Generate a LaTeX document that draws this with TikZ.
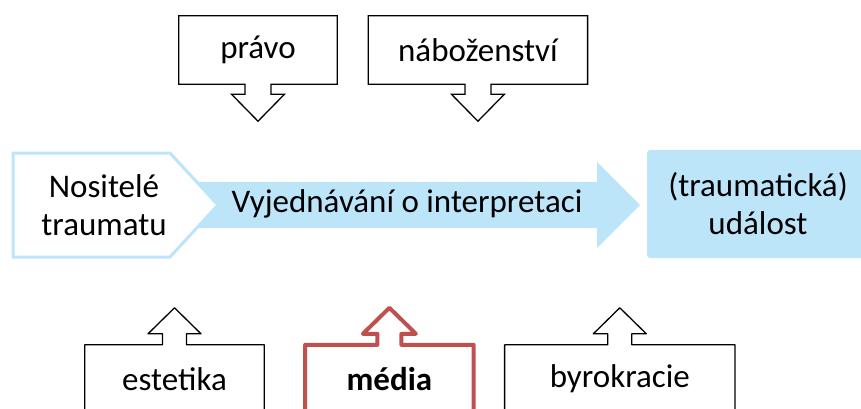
\documentclass[tikz,border=0pt]{standalone}
\usepackage{fontspec}
\setmainfont{Carlito}
\usetikzlibrary{positioning,calc}
\definecolor{paleblue}{RGB}{189,229,250}
\definecolor{mediared}{RGB}{192,80,77}

\begin{document}
\begin{tikzpicture}[x=1pt,y=-1pt,
    every node/.style={font=\fontsize{33}{38}\selectfont},
    box/.style={minimum height=68pt,inner sep=0pt},
    callout/.style={draw=black,line width=1.3pt}]
  \useasboundingbox (0,0) rectangle (861,408);
  \clip (0,0) rectangle (861,408);

  % negotiation arrow
  \fill[paleblue] (190,182) -- (597,182) -- (597,162) -- (640,205)
    -- (597,248) -- (597,228) -- (190,228) -- cycle;
  \draw[paleblue,line width=3pt,fill=white] (13,153) -- (170,153)
    -- (218,205) -- (170,257) -- (13,257) -- cycle;
  \node[align=center] (carriers) at (104,205) {Nositelé\\traumatu};
  \node (talk) at (407,204) {Vyjednávání o interpretaci};
  \node[fill=paleblue,rounded corners=3pt,minimum width=222pt,
    minimum height=108pt,align=center] (event) at (758,204)
    {(traumatická)\\událost};

  % upper influences
  \node[box,minimum width=158pt] (pravo) at (258,50) {právo};
  \node[box,minimum width=219pt,right=31pt of pravo] (nabozenstvi) {náboženství};
  \foreach \n in {pravo,nabozenstvi}
    \draw[callout] (\n.south west) -- (\n.north west) -- (\n.north east)
      -- (\n.south east) -- ($(\n.south)+(13,0)$) -- ++(0,10) -- ++(13.5,0)
      -- ($(\n.south)+(0,37)$) -- ++(-26.5,-27) -- ++(13.5,0) -- ++(0,-10)
      -- cycle;

  % lower influences
  \node[box,minimum width=179pt] (estetika) at (174.5,379) {estetika};
  \node[box,minimum width=168pt,right=41pt of estetika,
    font=\fontsize{33}{38}\selectfont\bfseries] (media) {média};
  \node[box,minimum width=230pt,right=31pt of media] (byrokracie) {byrokracie};
  \foreach \n/\c/\w in {estetika/black/1.3pt,media/mediared/4pt,byrokracie/black/1.3pt}
    \draw[callout,draw=\c,line width=\w,line join=round] (\n.north west)
      -- ($(\n.north)+(-12,0)$) -- ++(0,-11) -- ++(-14.5,0)
      -- ($(\n.north)+(0,-37)$) -- ++(26.5,26) -- ++(-14.5,0) -- ++(0,11)
      -- (\n.north east) -- (\n.south east) -- (\n.south west) -- cycle;
\end{tikzpicture}
\end{document}
